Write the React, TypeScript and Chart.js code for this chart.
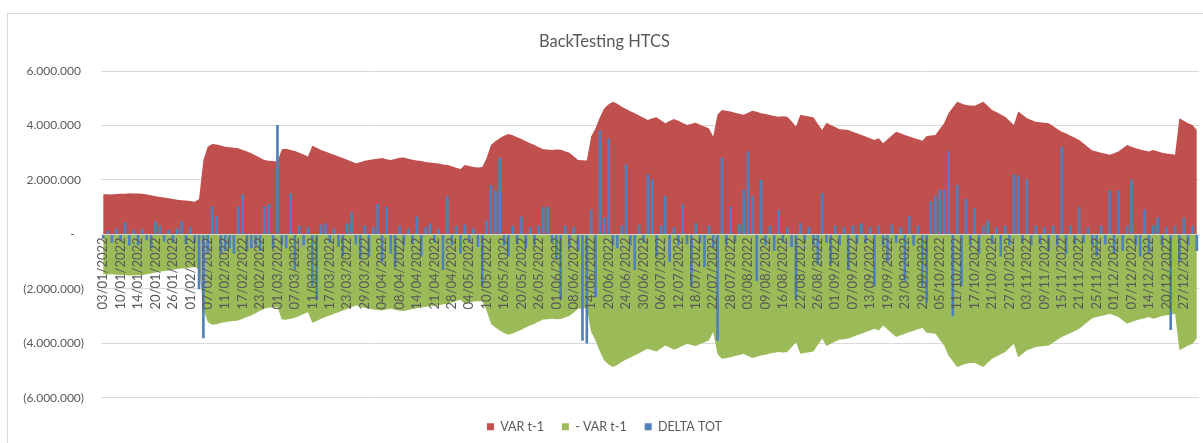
import { useEffect, useRef } from 'react';
import { Chart, registerables } from 'chart.js';

Chart.register(...registerables);

// Category axis: business days (dd/mm/yyyy)
const DATES: string[] = [
  '03/01/2022','04/01/2022','05/01/2022','07/01/2022','10/01/2022','11/01/2022','12/01/2022','13/01/2022','14/01/2022','17/01/2022',
  '18/01/2022','19/01/2022','20/01/2022','21/01/2022','24/01/2022','25/01/2022','26/01/2022','27/01/2022','28/01/2022','31/01/2022',
  '01/02/2022','02/02/2022','03/02/2022','04/02/2022','07/02/2022','08/02/2022','09/02/2022','10/02/2022','11/02/2022','14/02/2022',
  '15/02/2022','16/02/2022','17/02/2022','18/02/2022','21/02/2022','22/02/2022','23/02/2022','24/02/2022','25/02/2022','28/02/2022',
  '01/03/2022','02/03/2022','03/03/2022','04/03/2022','07/03/2022','08/03/2022','09/03/2022','10/03/2022','11/03/2022','14/03/2022',
  '15/03/2022','16/03/2022','17/03/2022','18/03/2022','21/03/2022','22/03/2022','23/03/2022','24/03/2022','25/03/2022','28/03/2022',
  '29/03/2022','30/03/2022','31/03/2022',
  '01/04/2022','04/04/2022','05/04/2022','06/04/2022','07/04/2022','08/04/2022','11/04/2022','12/04/2022','13/04/2022','14/04/2022',
  '15/04/2022','19/04/2022','20/04/2022','21/04/2022','22/04/2022','26/04/2022','27/04/2022','28/04/2022','29/04/2022',
  '02/05/2022','03/05/2022','04/05/2022','05/05/2022','06/05/2022','09/05/2022','10/05/2022','11/05/2022','12/05/2022','13/05/2022',
  '16/05/2022','17/05/2022','18/05/2022','19/05/2022','20/05/2022','23/05/2022','24/05/2022','25/05/2022','26/05/2022','27/05/2022',
  '30/05/2022','31/05/2022',
  '01/06/2022','03/06/2022','06/06/2022','07/06/2022','08/06/2022','09/06/2022','10/06/2022','13/06/2022','14/06/2022','15/06/2022',
  '16/06/2022','17/06/2022','20/06/2022','21/06/2022','22/06/2022','23/06/2022','24/06/2022','27/06/2022','28/06/2022','29/06/2022',
  '30/06/2022',
  '01/07/2022','04/07/2022','05/07/2022','06/07/2022','07/07/2022','08/07/2022','11/07/2022','12/07/2022','13/07/2022','14/07/2022',
  '15/07/2022','18/07/2022','19/07/2022','20/07/2022','21/07/2022','22/07/2022','25/07/2022','26/07/2022','27/07/2022','28/07/2022',
  '29/07/2022',
  '01/08/2022','02/08/2022','03/08/2022','04/08/2022','05/08/2022','08/08/2022','09/08/2022','10/08/2022','11/08/2022','12/08/2022',
  '16/08/2022','17/08/2022','18/08/2022','19/08/2022','22/08/2022','23/08/2022','24/08/2022','25/08/2022','26/08/2022','29/08/2022',
  '30/08/2022','31/08/2022',
  '01/09/2022','02/09/2022','05/09/2022','06/09/2022','07/09/2022','08/09/2022','09/09/2022','12/09/2022','13/09/2022','14/09/2022',
  '15/09/2022','16/09/2022','19/09/2022','20/09/2022','21/09/2022','22/09/2022','23/09/2022','26/09/2022','27/09/2022','28/09/2022',
  '29/09/2022','30/09/2022',
  '03/10/2022','04/10/2022','05/10/2022','06/10/2022','07/10/2022','10/10/2022','11/10/2022','12/10/2022','13/10/2022','14/10/2022',
  '17/10/2022','18/10/2022','19/10/2022','20/10/2022','21/10/2022','24/10/2022','25/10/2022','26/10/2022','27/10/2022','28/10/2022',
  '31/10/2022',
  '02/11/2022','03/11/2022','04/11/2022','07/11/2022','08/11/2022','09/11/2022','10/11/2022','11/11/2022','14/11/2022','15/11/2022',
  '16/11/2022','17/11/2022','18/11/2022','21/11/2022','22/11/2022','23/11/2022','24/11/2022','25/11/2022','28/11/2022','29/11/2022',
  '30/11/2022',
  '01/12/2022','02/12/2022','05/12/2022','06/12/2022','07/12/2022','09/12/2022','12/12/2022','13/12/2022','14/12/2022','15/12/2022',
  '16/12/2022','19/12/2022','20/12/2022','21/12/2022','22/12/2022','23/12/2022','27/12/2022','28/12/2022','29/12/2022','30/12/2022',
];

// VAR t-1 in thousands of euro
const VAR_T1_K: number[] = [
  1470,1475,1468,1480,1490,1495,1510,1505,1500,1490,
  1465,1440,1400,1370,1350,1330,1300,1270,1255,1240,
  1225,1200,1300,2730,3220,3320,3300,3260,3220,3200,
  3180,3160,3100,3040,2980,2900,2810,2730,2700,2690,
  2670,3130,3140,3100,3060,3000,2930,2860,3250,3180,
  3100,3040,2980,2920,2860,2800,2740,2680,2610,2650,
  2700,2730,2760,2780,2800,2760,2730,2770,2810,2820,
  2780,2740,2710,2690,2660,2640,2620,2600,2570,2550,
  2500,2450,2400,2550,2510,2470,2460,2470,2800,3280,
  3420,3530,3620,3690,3640,3570,3500,3420,3350,3280,
  3200,3130,3120,3100,3120,3110,3050,3000,2870,2730,
  2720,2710,3590,3900,4300,4630,4780,4870,4800,4690,
  4600,4520,4450,4370,4280,4200,4260,4300,4190,4080,
  4160,4240,4170,4090,4020,4060,4100,4030,3960,3900,
  3590,4400,4570,4540,4510,4470,4430,4390,4470,4540,
  4500,4450,4420,4380,4350,4320,4340,4320,4150,3960,
  4390,4360,4330,4300,4060,3830,4100,4020,3940,3860,
  3850,3830,3770,3710,3650,3590,3530,3470,3530,3350,
  3490,3630,3770,3710,3650,3590,3540,3490,3440,3610,
  3630,3650,3870,4080,4450,4660,4870,4810,4750,4730,
  4720,4800,4870,4720,4570,4490,4400,4320,4170,4020,
  4510,4390,4260,4200,4140,4120,4100,4080,3980,3870,
  3770,3700,3620,3550,3470,3340,3210,3080,3040,3000,
  2960,2920,2980,3040,3160,3280,3220,3160,3120,3080,
  3040,3100,3050,3000,2970,2950,2920,4260,4170,4080,
  4020,3830,
];

// DELTA TOT in thousands of euro
const DELTA_TOT_K: number[] = [
  -150,120,-300,200,-250,420,-400,150,-400,180,
  -200,-500,470,300,-250,150,-300,200,470,-350,
  250,-300,-2000,-3800,-700,1020,660,-700,-600,-500,
  -700,1020,1450,-600,-500,-400,-600,1000,1100,-500,
  4000,-400,-500,1500,-1300,300,-400,250,-1900,-2400,
  350,400,-300,200,-450,-800,400,800,-350,-900,
  300,-800,250,1100,-1000,1000,-700,-1200,300,-400,
  200,-350,640,-800,250,400,-300,200,-1300,1400,
  -400,300,-700,350,-300,200,-450,-1900,500,1800,
  1600,2800,-400,-800,300,-350,640,-500,250,-400,
  300,1000,1000,-300,-900,-2400,300,-500,250,-600,
  -3900,-4000,900,-2300,3800,600,3500,-400,-500,300,
  2550,-400,-1300,350,-300,2200,2000,-800,300,1390,
  -1000,250,-400,1080,-350,-1900,400,-300,-1200,300,
  -500,-3900,2800,-400,1000,-300,350,1630,3040,1400,
  -1700,1980,-400,300,-600,880,-300,250,-450,-2400,
  400,-300,250,-400,-1100,1500,-300,-1100,300,-400,
  250,-1300,300,-350,400,-300,250,-1900,300,-400,
  -1000,350,-300,250,-1700,660,-400,300,-1900,-2500,
  1200,1400,1630,1630,3040,-3000,1800,-1900,1300,-400,
  950,-700,300,500,-350,250,-800,300,-400,2200,
  2150,-300,2000,-400,300,-350,250,-600,300,-400,
  3200,-700,300,-350,1000,-300,250,-400,-800,300,
  -350,1600,-700,1600,-600,300,2000,-400,-800,900,
  -700,300,600,-400,250,-3500,300,-1000,600,-400,
  300,-600,
];

const SERIES_NAMES = ['VAR t-1', '- VAR t-1', 'DELTA TOT'];
const SERIES_COLORS = ['#c0504d', '#9bbb59', '#4f81bd'];
const TITLE = 'BackTesting HTCS';
const Y_MIN = -6000000;
const Y_MAX = 6000000;
const Y_STEP = 2000000;
const LABEL_EVERY = 4;

const group = (n: number) => String(Math.round(n)).replace(/\B(?=(\d{3})+(?!\d))/g, '.');
const fmtY = (v: number) => (v === 0 ? '-   ' : v > 0 ? group(v) + ' ' : '(' + group(-v) + ')');

export default function App() {
  const ref = useRef<HTMLCanvasElement | null>(null);

  useEffect(() => {
    if (!ref.current) return;
    Chart.defaults.font.family = 'Lato, "Open Sans", sans-serif';
    Chart.defaults.color = '#595959';
    const varT1 = VAR_T1_K.map((v) => v * 1000);
    const negVar = VAR_T1_K.map((v) => -v * 1000);
    const delta = DELTA_TOT_K.map((v) => v * 1000);

    const chart = new Chart(ref.current, {
      type: 'bar',
      data: {
        labels: DATES,
        datasets: [
          {
            type: 'line',
            label: SERIES_NAMES[0],
            data: varT1,
            backgroundColor: SERIES_COLORS[0],
            borderColor: SERIES_COLORS[0],
            borderWidth: 0,
            pointRadius: 0,
            fill: 'origin',
            tension: 0,
            order: 2,
          } as any,
          {
            type: 'line',
            label: SERIES_NAMES[1],
            data: negVar,
            backgroundColor: SERIES_COLORS[1],
            borderColor: SERIES_COLORS[1],
            borderWidth: 0,
            pointRadius: 0,
            fill: 'origin',
            tension: 0,
            order: 3,
          } as any,
          {
            type: 'bar',
            label: SERIES_NAMES[2],
            data: delta,
            backgroundColor: SERIES_COLORS[2],
            borderWidth: 0,
            barThickness: 2,
            order: 1,
          } as any,
        ],
      },
      options: {
        animation: false,
        responsive: true,
        maintainAspectRatio: false,
        layout: { padding: { top: 20, right: 4, bottom: 0, left: 10 } },
        plugins: {
          tooltip: { enabled: false },
          title: {
            display: true,
            text: TITLE,
            color: '#595959',
            font: { size: 16.5, weight: 'normal' },
            padding: { top: 12, bottom: 19.2 },
          },
          legend: {
            position: 'bottom',
            title: { display: true, text: '', font: { size: 4 }, padding: 0 },
            labels: {
              boxWidth: 7,
              boxHeight: 7,
              padding: 18,
              color: '#595959',
              font: { size: 12.5 },
              sort: (a: any, b: any) => a.datasetIndex - b.datasetIndex,
            },
          },
        },
        scales: {
          x: {
            position: { y: 0 } as any,
            offset: true,
            grid: { display: false, drawTicks: false },
            border: { display: true, color: '#d9d9d9', width: 1, z: 1 },
            ticks: {
              z: 1,
              autoSkip: false,
              maxRotation: 90,
              minRotation: 90,
              padding: 3,
              color: '#595959',
              font: { size: 13 },
              callback: (_v: any, i: number) => (i % LABEL_EVERY === 0 ? DATES[i] : ''),
            },
            afterFit: (s: any) => {
              s.height = 0;
              s.paddingLeft = 0;
              s.paddingRight = 0;
            },
          },
          y: {
            min: Y_MIN,
            max: Y_MAX,
            grid: { color: '#d9d9d9', drawTicks: false, lineWidth: 1 },
            border: { display: false },
            ticks: {
              stepSize: Y_STEP,
              padding: 17,
              color: '#595959',
              font: { size: 12 },
              callback: (v: any) => fmtY(Number(v)),
            },
            afterFit: (s: any) => {
              s.width = 91;
            },
          },
        },
      },
    });
    return () => chart.destroy();
  }, []);

  return (
    <div style={{ position: 'fixed', left: 0, top: 0, width: 1203, height: 443, background: '#ffffff' }}>
      <div
        style={{
          position: 'absolute',
          left: 7,
          top: 13,
          right: -2,
          bottom: -2,
          borderLeft: '1px solid #d9d9d9',
          borderTop: '1px solid #d9d9d9',
        }}
      />
      <canvas ref={ref} style={{ position: 'absolute', left: 0, top: 0 }} />
    </div>
  );
}
